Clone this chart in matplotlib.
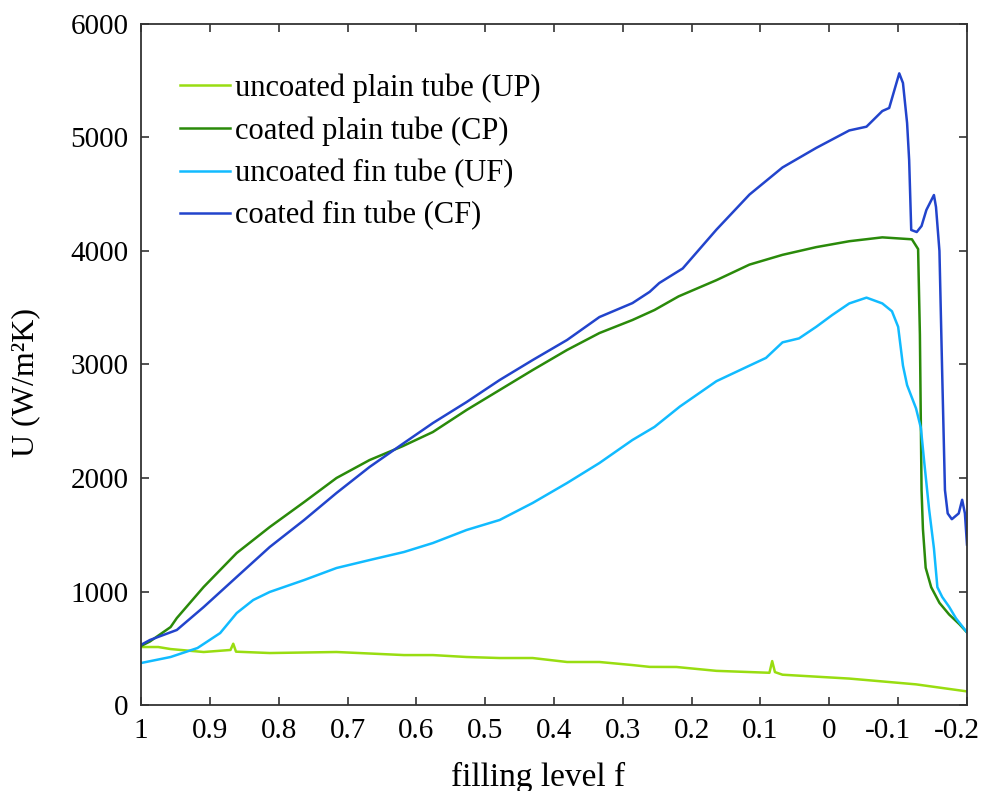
import matplotlib

matplotlib.use("Agg")
import matplotlib.pyplot as plt
import matplotlib.transforms as mtransforms

plt.rcParams["font.family"] = ["Liberation Serif", "DejaVu Serif"]

# filling level f and U (W/m2K)
f_up = [1.0, 0.975, 0.957, 0.909, 0.87, 0.866, 0.862, 0.813, 0.716, 0.618, 0.576, 0.527,
        0.479, 0.431, 0.381, 0.334, 0.286, 0.261, 0.222, 0.164, 0.087, 0.083, 0.079, 0.068,
        -0.029, -0.126, -0.2]
u_up = [511, 511, 493, 467, 485, 540, 470, 458, 467, 440, 440, 423,
        414, 414, 379, 379, 352, 336, 335, 301, 284, 387, 290, 267,
        233, 182, 120]

f_cp = [1.0, 0.987, 0.957, 0.948, 0.909, 0.861, 0.813, 0.763, 0.716, 0.668, 0.62, 0.576,
        0.527, 0.479, 0.431, 0.381, 0.334, 0.286, 0.254, 0.219, 0.164, 0.116, 0.068, 0.019,
        -0.029, -0.077, -0.12, -0.129, -0.1316, -0.134, -0.136, -0.14, -0.148, -0.16,
        -0.174, -0.189, -0.2]
u_cp = [520, 560, 687, 766, 1040, 1339, 1568, 1788, 2000, 2158, 2280, 2405,
        2599, 2775, 2951, 3128, 3277, 3392, 3480, 3600, 3743, 3880, 3966, 4034,
        4086, 4120, 4103, 4017, 3264, 1894, 1551, 1209, 1038, 900,
        798, 712, 640]

f_uf = [1.0, 0.957, 0.918, 0.885, 0.861, 0.837, 0.813, 0.763, 0.716, 0.668, 0.618, 0.576,
        0.527, 0.479, 0.431, 0.381, 0.334, 0.286, 0.254, 0.217, 0.164, 0.116, 0.092, 0.068,
        0.044, 0.019, -0.004, -0.029, -0.054, -0.077, -0.091, -0.1, -0.107, -0.113, -0.126,
        -0.133, -0.138, -0.145, -0.152, -0.157, -0.164, -0.174, -0.184, -0.2]
u_uf = [370, 423, 502, 634, 810, 925, 996, 1101, 1207, 1277, 1348, 1427,
        1542, 1630, 1780, 1956, 2132, 2335, 2450, 2630, 2853, 2990, 3058, 3195,
        3230, 3332, 3435, 3538, 3589, 3538, 3469, 3332, 2990, 2818, 2613,
        2442, 2134, 1723, 1380, 1038, 952, 866, 764, 640]

f_cf = [1.0, 0.987, 0.948, 0.909, 0.861, 0.813, 0.763, 0.716, 0.668, 0.62, 0.576, 0.527,
        0.479, 0.431, 0.381, 0.334, 0.286, 0.261, 0.247, 0.213, 0.164, 0.116, 0.068, 0.019,
        -0.029, -0.054, -0.077, -0.087, -0.1016, -0.107, -0.113, -0.116, -0.119, -0.127,
        -0.134, -0.141, -0.152, -0.155, -0.16, -0.164, -0.168, -0.172, -0.178, -0.188,
        -0.193, -0.197, -0.2]
u_cf = [530, 573, 661, 863, 1128, 1392, 1630, 1868, 2097, 2300, 2484, 2669,
        2863, 3039, 3216, 3418, 3541, 3640, 3718, 3846, 4188, 4497, 4736, 4908,
        5062, 5095, 5233, 5260, 5565, 5480, 5127, 4800, 4185, 4167,
        4220, 4361, 4493, 4387, 4000, 2921, 1894, 1688, 1637, 1688,
        1808, 1688, 1414]

x_ticks = [1, 0.9, 0.8, 0.7, 0.6, 0.5, 0.4, 0.3, 0.2, 0.1, 0, -0.1, -0.2]
x_labels = ["1", "0.9", "0.8", "0.7", "0.6", "0.5", "0.4", "0.3", "0.2", "0.1", "0", "-0.1", "-0.2"]
y_ticks = [0, 1000, 2000, 3000, 4000, 5000, 6000]

fig = plt.figure(figsize=(9.82, 7.91), dpi=100)
ax = fig.add_axes([0.1436, 0.1087, 0.8411, 0.861])

ax.plot(f_up, u_up, color="#99dd11", lw=1.8, label="uncoated plain tube (UP)")
ax.plot(f_cp, u_cp, color="#2a8a0a", lw=1.8, label="coated plain tube (CP)")
ax.plot(f_uf, u_uf, color="#11bbff", lw=1.8, label="uncoated fin tube (UF)")
ax.plot(f_cf, u_cf, color="#2244cc", lw=1.8, label="coated fin tube (CF)")

ax.set_xlim(1, -0.2)
ax.set_ylim(0, 6000)
ax.set_xticks(x_ticks)
ax.set_xticklabels(x_labels)
ax.set_yticks(y_ticks)
ax.tick_params(direction="in", length=6, width=1.2, top=True, right=True,
               labelsize=21, pad=9, colors="#333333", labelcolor="black")
for s in ax.spines.values():
    s.set_linewidth(1.3)
    s.set_color("#333333")

# negative labels sit a little left of their ticks in the original
shift = mtransforms.ScaledTranslation(-10 / 100, 0, fig.dpi_scale_trans)
for lab in ax.get_xticklabels():
    if lab.get_text().startswith("-"):
        lab.set_transform(lab.get_transform() + shift)

ax.set_xlabel("filling level f", fontsize=24)
ax.xaxis.set_label_coords(0.4806, -0.083)
ax.set_ylabel("U (W/m²K)", fontsize=23)
ax.yaxis.set_label_coords(-0.122, 0.473)

ax.legend(loc="upper left", bbox_to_anchor=(0.047, 0.927), frameon=False, fontsize=22,
          handlelength=1.63, handletextpad=0.16, labelspacing=0.43, borderaxespad=0,
          borderpad=0)

fig.savefig("out.png", dpi=100)
